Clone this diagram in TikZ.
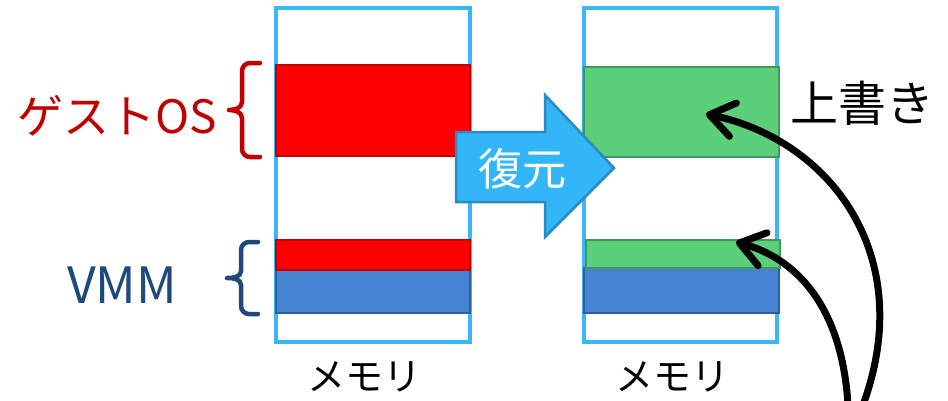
\documentclass[tikz,border=0pt]{standalone}
\usepackage{fontspec}
\setmainfont{Noto Sans CJK JP}
\usetikzlibrary{arrows.meta}
\definecolor{membd}{HTML}{3BB6F7}
\definecolor{redfill}{HTML}{FF0000}
\definecolor{redbd}{HTML}{C00000}
\definecolor{bluefill}{HTML}{4584D2}
\definecolor{bluebd}{HTML}{345E98}
\definecolor{greenfill}{HTML}{5BCF7A}
\definecolor{greenbd}{HTML}{40995A}
\definecolor{arrowfill}{HTML}{33B6F8}
\definecolor{arrowbd}{HTML}{2A8BC0}
\definecolor{vmmcol}{HTML}{1F497D}
\tikzset{
  mem/.style={draw=membd, line width=3.5pt},
  redblk/.style={fill=redfill, draw=redbd, line width=2.5pt},
  blueblk/.style={fill=bluefill, draw=bluebd, line width=2.5pt},
  greenblk/.style={fill=greenfill, draw=greenbd, line width=2.5pt},
  bracepath/.style={line width=4.5pt, line cap=round, line join=round},
  curvearrow/.style={line width=7pt, line cap=round, -{Straight Barb[length=24pt,width=34pt,round]}},
  lbl/.style={inner sep=0pt, font=\fontsize{38}{42}\selectfont},
}
\begin{document}
\begin{tikzpicture}[x=1pt,y=-1pt]
\useasboundingbox (0,0) rectangle (948,400);
\clip (0,0) rectangle (948,400);
\fill[white] (0,0) rectangle (948,400);
% left memory
\draw[mem] (276,8) rectangle (470,342);
\draw[redblk] (276,65) rectangle (470,156);
\draw[blueblk] (276,270) rectangle (470,313);
\draw[redblk] (276,240) rectangle (470,270);
% right memory
\draw[mem] (584,8) rectangle (777,342);
\draw[greenblk] (584,67) rectangle (779,157);
\draw[blueblk] (584,268) rectangle (779,313);
\draw[greenblk] (586,240) rectangle (780,268);
% arrow
\draw[fill=arrowfill, draw=arrowbd, line width=2.5pt, line join=miter]
  (456,132) -- (545,132) -- (545,95) -- (614,168) -- (545,237) -- (545,202) -- (456,202) -- cycle;
\node[inner sep=0pt, text=white, font=\fontsize{44}{48}\selectfont] (fukugen) at (522,169) {復元};
% labels
\node[inner sep=0pt, text=redbd, font=\fontsize{46}{50}\selectfont] (guest) at (117,116) {ゲストOS};
\node[inner sep=0pt, text=vmmcol, font=\fontsize{50}{54}\selectfont] (vmm) at (122,285) {VMM};
\node[lbl] (mem1) at (364,377) {メモリ};
\node[lbl] (mem2) at (672,377) {メモリ};
\node[inner sep=0pt, font=\fontsize{48}{52}\selectfont] (uwagaki) at (862,103) {上書き};
% braces
\draw[bracepath, redbd] (260,63) -- (250,63) to[out=180,in=90] (242,71) -- (242,102)
  to[out=-90,in=0] (229,110) to[out=0,in=90] (242,118) -- (242,149) to[out=-90,in=180] (250,157) -- (260,157);
\draw[bracepath, vmmcol] (258,242) -- (249,242) to[out=180,in=90] (241,250) -- (241,271)
  to[out=-90,in=0] (227,278) to[out=0,in=90] (241,285) -- (241,306) to[out=-90,in=180] (249,314) -- (258,314);
% curved arrows
\coordinate (s1) at (863,405);
\coordinate (t1) at (706,114);
\coordinate (s2) at (848,405);
\coordinate (t2) at (736,242);
\draw[curvearrow] (s1) .. controls (918,255) and (830,140) .. (t1);
\draw[curvearrow] (s2) .. controls (842,305) and (795,258) .. (t2);
\end{tikzpicture}
\end{document}
